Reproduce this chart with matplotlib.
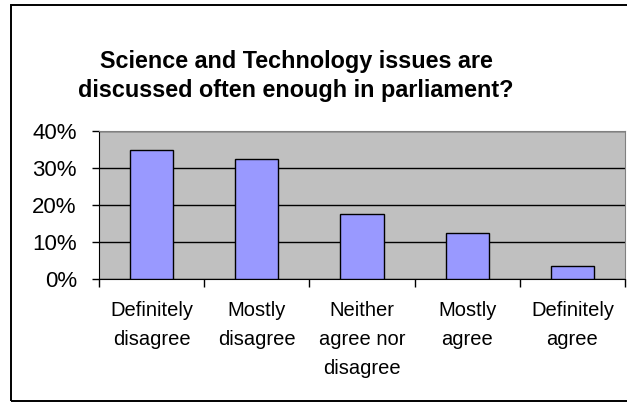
import numpy as np
import matplotlib
matplotlib.use('Agg')
import matplotlib.pyplot as plt
from matplotlib.patches import Rectangle

categories = ['Definitely\ndisagree', 'Mostly\ndisagree', 'Neither\nagree nor\ndisagree',
              'Mostly\nagree', 'Definitely\nagree']
shares = [35.0, 32.3, 17.5, 12.5, 3.4]
yticks = [0, 10, 20, 30, 40]
title = 'Science and Technology issues are\ndiscussed often enough in parliament?'

plt.rcParams['font.family'] = ['Liberation Sans', 'DejaVu Sans']

fig = plt.figure(figsize=(6.27, 4.03), dpi=100)
fig.patch.set_facecolor('white')

# chart frame (right edge runs off the canvas)
fig.patches.append(Rectangle((11 / 627, 2 / 403), 1.2, 396 / 403, transform=fig.transFigure,
                             fill=False, edgecolor='black', linewidth=1.4, zorder=0))

ax = fig.add_axes([99 / 627, 1 - 279 / 403, 526 / 627, 148 / 403])
ax.set_facecolor('#c0c0c0')

x = np.arange(len(categories))
ax.bar(x, shares, width=0.41, color='#9999ff', edgecolor='black', linewidth=1.0, zorder=3)

ax.set_xlim(-0.5, len(categories) - 0.5)
ax.set_ylim(0, 40)
ax.set_yticks(yticks)
ax.set_yticklabels(['%d%%' % v for v in yticks])
ax.yaxis.grid(True, color='black', linewidth=1.0)
ax.set_axisbelow(True)

# category boundaries get the tick marks, labels sit in between
ax.set_xticks(np.arange(len(categories) + 1) - 0.5)
ax.set_xticklabels([])
ax.set_xticks(x, minor=True)
ax.set_xticklabels(categories, minor=True, fontsize=14.5, linespacing=1.67)
ax.tick_params(axis='x', which='major', direction='out', length=6, width=1)
ax.tick_params(axis='x', which='minor', length=0, pad=16)
ax.tick_params(axis='y', direction='out', length=5, width=1, pad=11, labelsize=16)

for side in ['top', 'right']:
    ax.spines[side].set_color('#808080')
for side in ['left', 'bottom']:
    ax.spines[side].set_color('black')

fig.text(0.472, 1 - 76 / 403, title, ha='center', va='center', fontsize=16.8,
         fontweight='bold', linespacing=1.32)

fig.savefig('out.png', dpi=100)
